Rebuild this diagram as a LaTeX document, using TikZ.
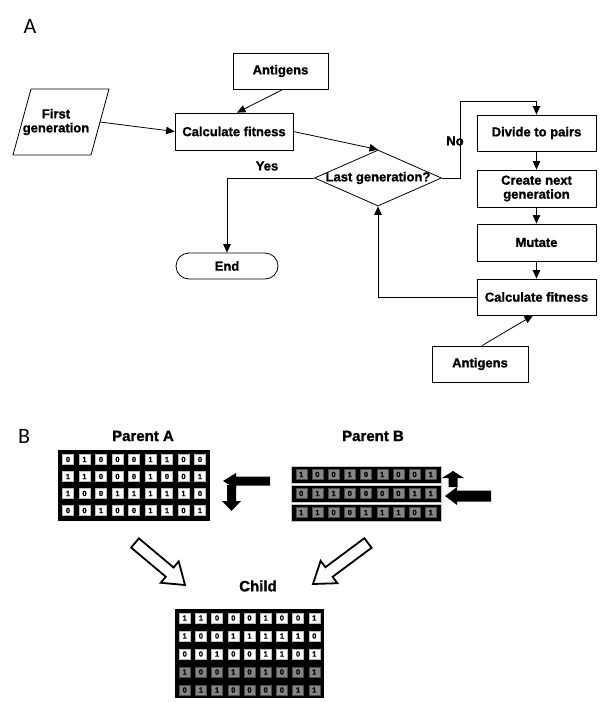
\documentclass[tikz,border=0pt]{standalone}
\usepackage{fontspec}
\setmainfont{Liberation Sans}[BoldFeatures={FakeBold=1.3}]
\newfontfamily\labfont{Carlito}
\usetikzlibrary{calc,arrows.meta,shapes.geometric}
\definecolor{cellgrey}{HTML}{858585}
\tikzset{
  box/.style={draw, line width=0.8pt, inner sep=1pt, align=center,
    font=\bfseries\fontsize{13}{14}\selectfont},
  txt/.style={inner sep=0pt, align=center, font=\bfseries\fontsize{13}{14}\selectfont},
  arr/.style={line width=0.8pt, -{Triangle[length=8.5pt,width=7.5pt]}},
  wcell/.style={fill=white, draw=gray!55, line width=0.4pt, minimum width=11pt,
    minimum height=10pt, inner sep=0pt, font=\bfseries\fontsize{7.5}{7.5}\selectfont},
  gcell/.style={fill=cellgrey, draw=black!70, line width=0.4pt, minimum width=11pt,
    minimum height=10pt, inner sep=0pt, font=\bfseries\fontsize{7.5}{7.5}\selectfont},
  hollow/.style={draw, line width=1.8pt, fill=white, line join=miter},
  block/.style={fill=black},
  panel/.style={inner sep=0pt, font=\labfont\fontsize{22}{22}\selectfont},
  title/.style={inner sep=0pt, font=\bfseries\fontsize{15}{15}\selectfont}
}
\newcommand{\cellrow}[6]{% name, x0, y, pitch, style, list
  \foreach \v [count=\i from 0] in {#6} {\node[#5] (#1-\i) at ({#2+\i*#4},#3) {\v};}}
\begin{document}
\begin{tikzpicture}[x=1pt,y=-1pt]
\useasboundingbox (0,0) rectangle (600,702);

% ---------------- Part A ----------------
\node[panel] (labA) at (30,26) {A};

\node[box, minimum width=95pt, minimum height=36pt] (antA) at (280.5,71) {Antigens};
\draw[line width=0.8pt] (31,89) -- (109,89) -- (91,155) -- (13,155) -- cycle;
\node[txt] (first) at (56,122) {First\\generation};
\coordinate (firstR) at (100,122);
\node[box, minimum width=118pt, minimum height=37pt] (calc1) at (234,131.5) {Calculate fitness};
\node[diamond, draw, line width=0.8pt, minimum width=127pt, minimum height=56pt, inner sep=0pt] (diam) at (378,178) {};
\node[txt] (diamT) at (378,178) {Last generation?};
\node[box, rounded corners=13pt, minimum width=102pt, minimum height=26pt] (endn) at (227,266) {End};

\node[box, minimum width=119pt, minimum height=36pt] (divide) at (536.5,133) {Divide to pairs};
\node[box, minimum width=119pt, minimum height=37pt] (create) at (536.5,188.5) {Create next\\generation};
\node[box, minimum width=119pt, minimum height=37pt] (mutate) at (536.5,242.5) {Mutate};
\node[box, minimum width=119pt, minimum height=36pt] (calc2) at (536.5,297) {Calculate fitness};
\node[box, minimum width=96pt, minimum height=36pt] (antB) at (480,364) {Antigens};

\node[txt] (yes) at (267,166) {Yes};
\node[txt] (no) at (455,141) {No};

\draw[arr] (firstR) -- (calc1.west);
\draw[arr] ([xshift=2.5pt]antA.south) -- ([xshift=3pt]calc1.north);
\draw[arr] (calc1.east) -- (diam.north);
\draw[arr] (diam.west) -| (endn.north);
\draw[arr] (diam.east) -- ++(18,0) |- ($(divide.north)+(0,-13)$) -- (divide.north);
\draw[arr] (divide.south) -- (create.north);
\draw[arr] (create.south) -- (mutate.north);
\draw[arr] (mutate.south) -- (calc2.north);
\draw[arr] ([xshift=2pt]antB.north) -- ([xshift=-3.5pt]calc2.south);
\draw[arr] (calc2.west) -| (diam.south);

% ---------------- Part B ----------------
\node[panel] (labB) at (24,436) {B};
\node[title] (tA) at (143,436) {Parent A};
\node[title] (tB) at (373,436) {Parent B};
\node[title] (tC) at (258,586) {Child};

% Parent A
\fill[black] (58,450) rectangle (210,521);
\cellrow{a1}{68}{459.5}{16.5}{wcell}{0,1,0,0,0,1,1,0,0}
\cellrow{a2}{68}{476.5}{16.5}{wcell}{1,1,0,0,0,1,0,0,1}
\cellrow{a3}{68}{493.5}{16.5}{wcell}{1,0,0,1,1,1,1,1,0}
\cellrow{a4}{68}{510.5}{16.5}{wcell}{0,0,1,0,0,1,1,0,1}

% Parent B
\filldraw[fill=black, draw=gray!45, line width=1pt] (291,466) rectangle (441,483);
\filldraw[fill=black, draw=gray!45, line width=1pt] (291,485) rectangle (441,502);
\filldraw[fill=black, draw=gray!45, line width=1pt] (291,504) rectangle (441,521);
\cellrow{b1}{301.2}{474.5}{16.2}{gcell}{1,0,0,1,0,1,0,0,1}
\cellrow{b2}{301.2}{493.5}{16.2}{gcell}{0,1,1,0,0,0,0,1,1}
\cellrow{b3}{301.2}{512.5}{16.2}{gcell}{1,1,0,0,1,1,1,0,1}

% Child
\fill[black] (175,609) rectangle (324,698);
\cellrow{c1}{184.7}{618}{16.2}{wcell}{1,1,0,0,0,1,0,0,1}
\cellrow{c2}{184.7}{636}{16.2}{wcell}{1,0,0,1,1,1,1,1,0}
\cellrow{c3}{184.7}{654}{16.2}{wcell}{0,0,1,0,0,1,1,0,1}
\cellrow{c4}{184.7}{672}{16.2}{gcell}{1,0,0,1,0,1,0,0,1}
\cellrow{c5}{184.7}{690}{16.2}{gcell}{0,1,1,0,0,0,0,1,1}

% block arrows
\fill[block] (223,481) -- (236,473) -- (236,476.5) -- (270,476.5) -- (270,485.5) -- (236,485.5) -- (236,489) -- cycle;
\fill[block] (227,485) -- (236,485) -- (236,501) -- (241,501) -- (231.5,511) -- (222,501) -- (227,501) -- cycle;
\fill[block] (453,471) -- (464,478) -- (457.5,478) -- (457.5,487) -- (448.5,487) -- (448.5,478) -- (442,478) -- cycle;
\fill[block] (445,496) -- (457,487) -- (457,490.5) -- (491,490.5) -- (491,501.5) -- (457,501.5) -- (457,505) -- cycle;

% hollow arrows
\draw[hollow] (131.1,547.6) -- (165.8,576.7) -- (160.7,582.8) -- (185,585) -- (178.7,561.4) -- (173.6,567.5) -- (138.9,538.4) -- cycle;
\draw[hollow] (364.4,538.2) -- (325.4,567.2) -- (320.6,560.8) -- (313,584) -- (337.4,583.2) -- (332.6,576.8) -- (371.6,547.8) -- cycle;
\end{tikzpicture}
\end{document}
